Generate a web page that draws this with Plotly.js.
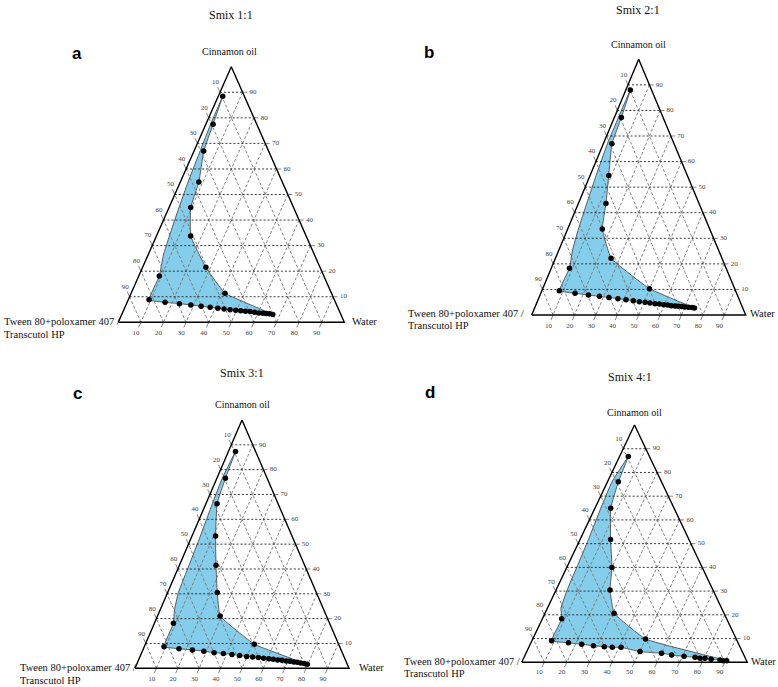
<!DOCTYPE html>
<html><head><meta charset="utf-8">
<script src="https://cdn.plot.ly/plotly-3.0.1.min.js"></script>
<style>html,body{margin:0;padding:0;background:#fff}#chart{width:778px;height:687px}</style>
</head><body><div id="chart"></div>
<script>
// ---- text ----
const panelTitles = ["Smix 1:1", "Smix 2:1", "Smix 3:1", "Smix 4:1"];
const panelLetters = ["a", "b", "c", "d"];
const topVertexLabel = "Cinnamon oil";
const rightVertexLabel = "Water";
const leftVertexLabel = ["Tween 80+poloxamer 407 /", "Transcutol HP"];
const gridTicks = [10, 20, 30, 40, 50, 60, 70, 80, 90];

// ---- data: compositions in % (oil, water; Smix = remainder) ----
// measured points, order: right boundary top->bottom, bottom row right->left, then left points
const smix11Oil   = [88.4, 77.5, 67.0, 54.9, 44.9, 33.8, 21.5, 11.4,
  3.1, 3.3, 3.4, 3.5, 3.6, 3.9, 4.2, 4.3, 4.5, 4.7, 4.9, 5.2, 5.5, 5.9, 6.3, 6.8, 7.3, 7.8,
  8.8, 18.1];
const smix11Water = [2.0, 3.2, 4.3, 8.2, 9.6, 15.1, 28.0, 41.5,
  66.8, 65.2, 63.7, 62.2, 60.3, 58.3, 56.2, 54.1, 51.9, 49.6, 47.0, 44.2, 41.3, 37.7, 33.5, 28.7, 23.4, 16.8,
  9.2, 9.1];
// outer (left) edge of the shaded region, bottom->top
const smix11EdgeOil   = [26.3, 33.8, 44.9, 54.9, 67.0, 77.5];
const smix11EdgeWater = [6.8, 5.7, 4.4, 3.4, 2.7, 2.1];

const smix21Oil   = [88.0, 77.2, 67.0, 54.6, 43.6, 33.6, 22.2, 10.3,
  2.7, 2.9, 3.0, 3.1, 3.3, 3.4, 3.5, 3.6, 3.9, 4.0, 4.3, 4.4, 4.7, 5.0, 5.2, 5.6, 6.0, 6.4, 6.8, 7.3, 7.8, 8.5,
  9.5, 18.3];
const smix21Water = [2.1, 3.3, 4.0, 8.7, 12.9, 16.2, 26.0, 49.9,
  74.7, 73.4, 71.7, 70.1, 68.5, 66.8, 65.2, 63.4, 61.6, 59.7, 57.5, 55.4, 52.9, 50.5, 47.7, 44.7, 41.1, 37.1, 32.7, 28.0, 22.6, 16.0,
  8.2, 8.5];
const smix21EdgeOil   = [25.4, 33.6, 43.6, 54.6, 67.0, 77.2];
const smix21EdgeWater = [6.4, 5.0, 3.9, 2.8, 1.9, 1.9];

const smix31Oil   = [87.3, 76.5, 66.3, 53.3, 41.5, 30.5, 21.1, 9.7,
  1.6, 1.9, 2.1, 2.4, 2.5, 2.8, 2.9, 3.2, 3.3, 3.6, 3.8, 4.0, 4.3, 4.6, 4.8, 5.2, 5.6, 6.0, 6.3, 6.9, 7.4, 7.9,
  8.7, 18.1];
const smix31Water = [3.3, 4.0, 5.2, 11.0, 17.1, 23.2, 29.2, 50.9,
  79.7, 78.1, 76.4, 74.6, 72.9, 71.0, 69.2, 67.1, 65.0, 62.8, 60.6, 58.1, 55.5, 52.7, 49.8, 46.3, 42.5, 38.3, 33.8, 28.7, 23.1, 16.6,
  9.2, 8.9];
const smix31EdgeOil   = [23.5, 30.5, 41.5, 53.3, 66.3, 76.5];
const smix31EdgeWater = [6.7, 5.0, 4.5, 3.9, 3.0, 2.5];

const smix41Oil   = [86.7, 76.1, 64.9, 51.8, 40.0, 30.5, 20.7, 9.8,
  0.7, 0.7, 1.0, 1.3, 1.7, 1.7, 2.1, 2.5, 3.1, 3.8, 4.5, 6.3, 6.3, 6.6, 7.0, 7.6, 8.2,
  9.1, 18.3];
const smix41Water = [3.9, 4.8, 7.0, 13.5, 20.0, 23.9, 30.6, 50.0,
  90.5, 89.0, 87.4, 83.3, 80.4, 78.2, 75.8, 70.7, 64.9, 60.1, 50.2, 40.9, 37.0, 33.3, 28.3, 22.8, 16.6,
  8.7, 8.6];
const smix41EdgeOil   = [22.8, 30.5, 40.0, 51.8, 64.9, 76.1];
const smix41EdgeWater = [6.0, 4.9, 4.4, 3.7, 2.6, 2.0];

const panelData = [
  {oil: smix11Oil, water: smix11Water, edgeOil: smix11EdgeOil, edgeWater: smix11EdgeWater},
  {oil: smix21Oil, water: smix21Water, edgeOil: smix21EdgeOil, edgeWater: smix21EdgeWater},
  {oil: smix31Oil, water: smix31Water, edgeOil: smix31EdgeOil, edgeWater: smix31EdgeWater},
  {oil: smix41Oil, water: smix41Water, edgeOil: smix41EdgeOil, edgeWater: smix41EdgeWater}
];

// ---- layout geometry (pixels) ----
const W0 = 778, H0 = 687;
const geom = [
  {xL:118.3, xR:344.3, yA:66.7, yB:322.3, title:[231,14.5], letter:[77.3,53.3], top:[229,51.7], water:[350,321.7], tween:[1.5,321.7,334.3]},
  {xL:531.7, xR:745.7, yA:59.3, yB:315.0, title:[638,10], letter:[429.3,52.7], top:[638.3,44], water:[748.3,313.3], tween:[406.2,313.3,325.7]},
  {xL:135.0, xR:349.0, yA:420.0, yB:668.3, title:[242.3,373.3], letter:[77.3,393.3], top:[242.3,404], water:[356.7,667.7], tween:[17.8,667.7,680]},
  {xL:521.7, xR:747.3, yA:425.0, yB:662.3, title:[630,376.7], letter:[430,392.7], top:[634.3,412.7], water:[749.3,661.7], tween:[402.2,661.7,673.3]}
];

const FILL = 'rgb(132,205,235)';
const SERIF = 'Liberation Serif';
const SANS = 'Liberation Sans';

const X = (o, w) => (w + o / 2) / 100;
const Y = o => o / 100;

const traces = [];
const layout = {
  width: W0, height: H0, margin: {l:0, r:0, t:0, b:0},
  paper_bgcolor: '#fff', plot_bgcolor: 'rgba(0,0,0,0)',
  showlegend: false, hovermode: 'closest', annotations: []
};
const px = x => x / W0, py = y => 1 - y / H0;

panelData.forEach((p, i) => {
  const g = geom[i];
  const sfx = i === 0 ? '' : String(i + 1);
  const xa = 'x' + sfx, ya = 'y' + sfx;
  const Wd = g.xR - g.xL, Hd = g.yB - g.yA;
  const bx0 = g.xL - 32, bx1 = g.xR + 26, by0 = g.yA - 18, by1 = Math.min(g.yB + 18, H0 - 0.5);
  layout['xaxis' + sfx] = {domain:[px(bx0), px(bx1)], range:[(bx0 - g.xL) / Wd, (bx1 - g.xL) / Wd],
    visible:false, fixedrange:true, anchor: ya};
  layout['yaxis' + sfx] = {domain:[py(by1), py(by0)], range:[(g.yB - by1) / Hd, (g.yB - by0) / Hd],
    visible:false, fixedrange:true, anchor: xa};

  // shaded region: measured points + outer edge, closed back to the first point
  const fo = p.oil.concat(p.edgeOil, [p.oil[0]]);
  const fw = p.water.concat(p.edgeWater, [p.water[0]]);
  traces.push({type:'scatter', mode:'lines', xaxis:xa, yaxis:ya,
    x: fo.map((o, j) => X(o, fw[j])), y: fo.map(Y),
    fill:'toself', fillcolor: FILL,
    line:{color:'#3a3a3a', width:0.8, shape:'spline', smoothing:0.3}, hoverinfo:'skip'});

  // grid
  const hx = [], hy = [], dx = [], dy = [];
  gridTicks.forEach(t => {
    hx.push(X(t, 0), X(t, 100 - t), null); hy.push(Y(t), Y(t), null);
    dx.push(X(0, 100 - t), X(100 - t, 0), null); dy.push(Y(0), Y(100 - t), null);
    dx.push(X(100 - t, t), X(0, t), null); dy.push(Y(100 - t), Y(0), null);
  });
  traces.push({type:'scatter', mode:'lines', xaxis:xa, yaxis:ya, x:dx, y:dy,
    line:{color:'#777', width:0.9, dash:'3px,2px'}, hoverinfo:'skip', connectgaps:false});
  traces.push({type:'scatter', mode:'lines', xaxis:xa, yaxis:ya, x:hx, y:hy,
    line:{color:'#222', width:0.9, dash:'2px,2px'}, hoverinfo:'skip', connectgaps:false});

  // ticks
  const et = 2.0, elR = 4.6, elL = 3.9, elB = 4.4;
  const tx = [], ty = [];
  const lx = [], ly = [], lt = [];
  gridTicks.forEach(t => {
    tx.push(X(t, 100 - t), X(t, 100 - t + et), null); ty.push(Y(t), Y(t), null);
    lx.push(X(t, 100 - t + elR)); ly.push(Y(t)); lt.push(String(t));
    tx.push(X(100 - t, 0), X(100 - t + et, -et), null); ty.push(Y(100 - t), Y(100 - t + et), null);
    lx.push(X(100 - t + elL, -elL)); ly.push(Y(100 - t + elL)); lt.push(String(t));
    tx.push(X(0, t), X(-et, t), null); ty.push(Y(0), Y(-et), null);
    lx.push(X(-elB, t)); ly.push(Y(-elB)); lt.push(String(t));
  });
  traces.push({type:'scatter', mode:'lines', xaxis:xa, yaxis:ya, x:tx, y:ty,
    line:{color:'#666', width:0.8}, hoverinfo:'skip', cliponaxis:false});
  traces.push({type:'scatter', mode:'text', xaxis:xa, yaxis:ya, x:lx, y:ly, text:lt,
    textfont:{family:SERIF, size:7, color:'#444'}, textposition:'middle center', hoverinfo:'skip', cliponaxis:false});

  // triangle outline
  traces.push({type:'scatter', mode:'lines', xaxis:xa, yaxis:ya,
    x:[X(0,0), X(0,100), X(100,0), X(0,0)], y:[Y(0), Y(0), Y(100), Y(0)],
    line:{color:'#000', width:1.4}, hoverinfo:'skip'});

  // points
  traces.push({type:'scatter', mode:'markers', xaxis:xa, yaxis:ya,
    x: p.oil.map((o, j) => X(o, p.water[j])), y: p.oil.map(Y),
    marker:{color:'#000', size:5.5},
    text: p.oil.map((o, j) => 'Oil ' + o + '%, Water ' + p.water[j] + '%, Smix ' + (100 - o - p.water[j]).toFixed(1) + '%'),
    hoverinfo:'text', cliponaxis:false});

  // annotations
  const A = layout.annotations;
  A.push({xref:'paper', yref:'paper', x:px(g.title[0]), y:py(g.title[1]), text:panelTitles[i], showarrow:false,
    xanchor:'center', yanchor:'middle', font:{family:SERIF, size:12, color:'#111'}});
  A.push({xref:'paper', yref:'paper', x:px(g.letter[0]), y:py(g.letter[1]), text:'<b>' + panelLetters[i] + '</b>', showarrow:false,
    xanchor:'center', yanchor:'middle', font:{family:SANS, size:17, color:'#000'}});
  A.push({xref:'paper', yref:'paper', x:px(g.top[0]), y:py(g.top[1]), text:topVertexLabel, showarrow:false,
    xanchor:'center', yanchor:'middle', font:{family:SERIF, size:10, color:'#111'}});
  A.push({xref:'paper', yref:'paper', x:px(g.water[0]), y:py(g.water[1]), text:rightVertexLabel, showarrow:false,
    xanchor:'left', yanchor:'middle', font:{family:SERIF, size:10.5, color:'#111'}});
  A.push({xref:'paper', yref:'paper', x:px(g.tween[0]), y:py(g.tween[1]), text:leftVertexLabel[0], showarrow:false,
    xanchor:'left', yanchor:'middle', font:{family:SERIF, size:10.5, color:'#111'}});
  A.push({xref:'paper', yref:'paper', x:px(g.tween[0]), y:py(g.tween[2]), text:leftVertexLabel[1], showarrow:false,
    xanchor:'left', yanchor:'middle', font:{family:SERIF, size:10.5, color:'#111'}});
});

Plotly.newPlot('chart', traces, layout, {displayModeBar:false});
</script>
</body></html>
